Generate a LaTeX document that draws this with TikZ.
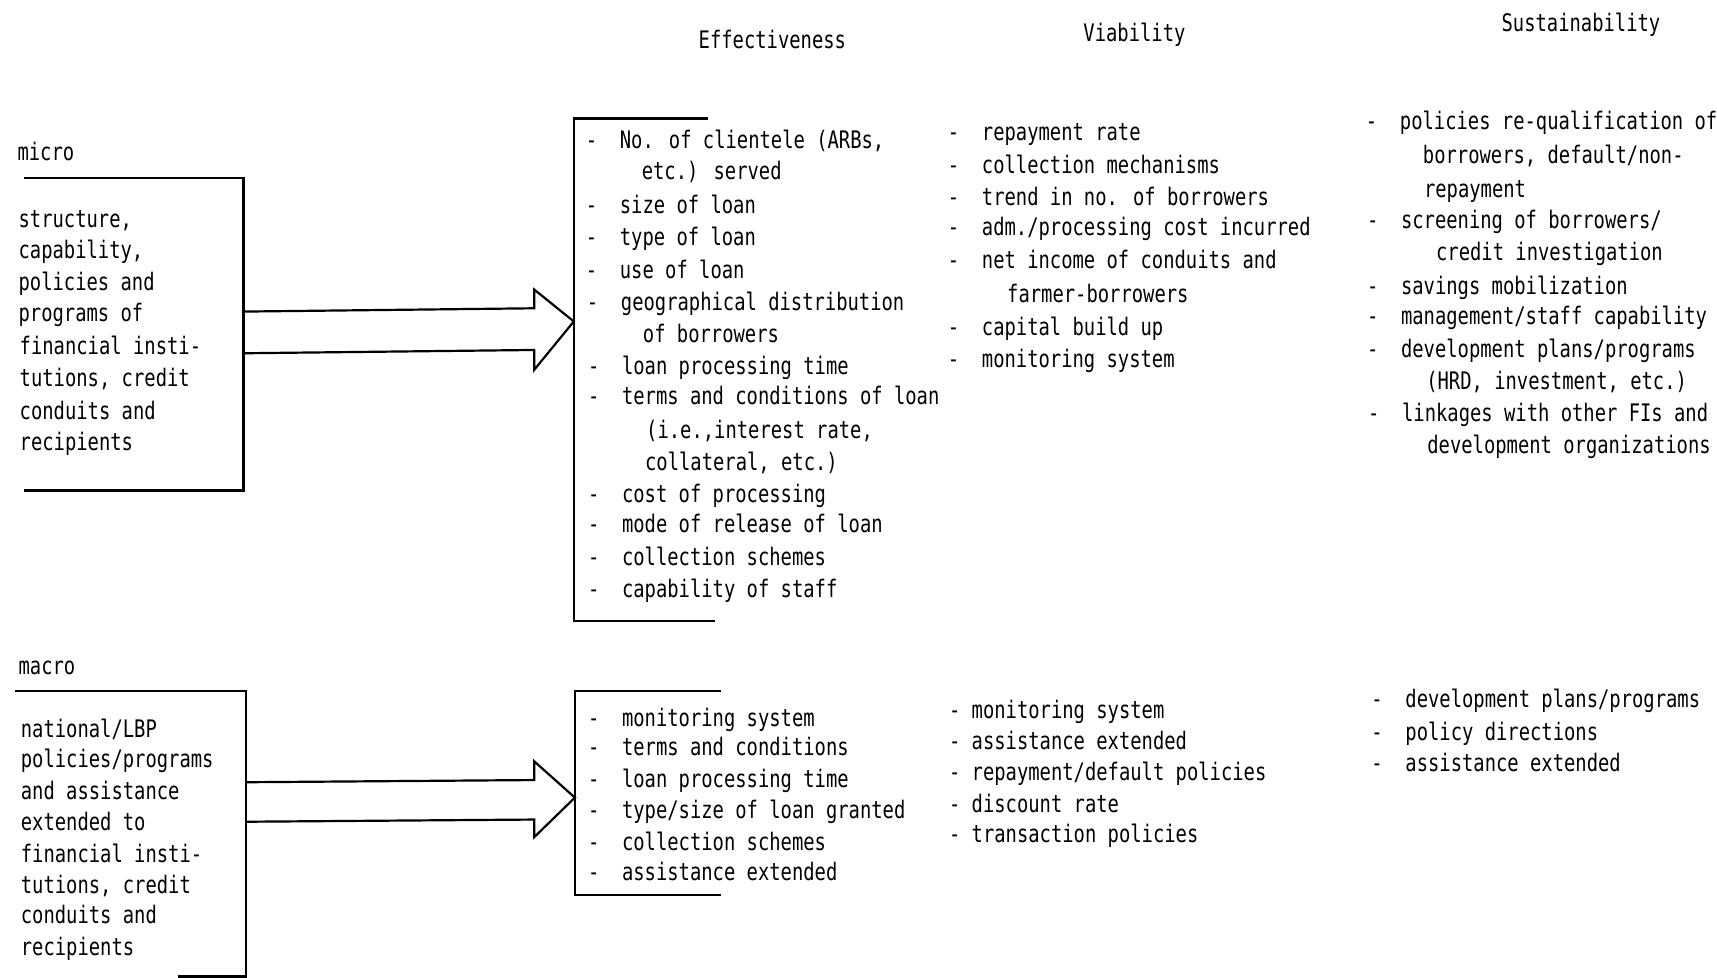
\documentclass[tikz,border=0pt]{standalone}
\usepackage{fontspec}
\newfontfamily\mono[FakeStretch=0.78]{DejaVu Sans Mono}
\usetikzlibrary{calc}
\newlength\cw
\newcommand\D{-\hspace*{2\cw}}
\newcommand\Dn{-\hspace*{1\cw}}
\newcommand\Lx[4]{\node[txt] (#1) at (#2,#3+8) {#4};}
\tikzset{
  txt/.style={anchor=base west,inner sep=0pt,outer sep=0pt,font=\mono\fontsize{11pt}{13pt}\selectfont},
  head/.style={anchor=base,inner sep=0pt,font=\mono\fontsize{11pt}{13pt}\selectfont},
  bx/.style={line width=1pt,line join=miter},
}
\begin{document}
\settowidth{\cw}{\mono\fontsize{11pt}{13pt}\selectfont 0}
\begin{tikzpicture}[x=0.5pt,y=-0.5pt]
\fill[white] (0,0) rectangle (1565,891.4);
\useasboundingbox (0,0) rectangle (1565,891.4);

% headers
\node[head] (hE) at (704,44) {Effectiveness};
\node[head] (hV) at (1034,38) {Viability};
\node[head] (hS) at (1441,29) {Sustainability};

% labels
\Lx{lmicro}{16}{138}{micro}
\Lx{lmacro}{17}{607}{macro}

% micro box
\draw[bx] (22,162) -- (222,162) -- (222,447) -- (22,447);
\Lx{m1}{17}{199}{structure,}
\Lx{m2}{17}{228}{capability,}
\Lx{m3}{17}{257}{policies and}
\Lx{m4}{17}{285}{programs of}
\Lx{m5}{18}{315}{financial insti-}
\Lx{m6}{18}{344}{tutions, credit}
\Lx{m7}{18}{374}{conduits and}
\Lx{m8}{18}{403}{recipients}

% micro effectiveness box
\draw[bx] (645,108) -- (523,108) -- (523,566) -- (652,566);
\coordinate (microR) at (222,303);
\coordinate (effL) at (523,293);
\draw[bx] ($(microR)+(0,-19)$) -- (487,281) -- (487,264) -- (effL) -- (487,337) -- (487,319) -- ($(microR)+(0,19)$);

\Lx{e1}{534}{127}{\D No. of clientele (ARBs,}
\Lx{e2}{585}{156}{etc.) served}
\Lx{e3}{534}{187}{\D size of loan}
\Lx{e4}{534}{216}{\D type of loan}
\Lx{e5}{534}{246}{\D use of loan}
\Lx{e6}{535}{275}{\D geographical distribution}
\Lx{e7}{586}{304}{of borrowers}
\Lx{e8}{536}{333}{\D loan processing time}
\Lx{e9}{536}{361}{\D terms and conditions of loan}
\Lx{e10}{589}{392}{(i.e.,interest rate,}
\Lx{e11}{588}{421}{collateral, etc.)}
\Lx{e12}{536}{450}{\D cost of processing}
\Lx{e13}{536}{477}{\D mode of release of loan}
\Lx{e14}{536}{507}{\D collection schemes}
\Lx{e15}{536}{537}{\D capability of staff}

% micro viability
\Lx{v1}{864}{120}{\D repayment rate}
\Lx{v2}{864}{150}{\D collection mechanisms}
\Lx{v3}{864}{179}{\D trend in no. of borrowers}
\Lx{v4}{864}{207}{\D adm./processing cost incurred}
\Lx{v5}{864}{237}{\D net income of conduits and}
\Lx{v6}{918}{268}{farmer-borrowers}
\Lx{v7}{864}{298}{\D capital build up}
\Lx{v8}{864}{327}{\D monitoring system}

% micro sustainability
\Lx{s1}{1245}{110}{\D policies re-qualification of}
\Lx{s2}{1297}{141}{borrowers, default/non-}
\Lx{s3}{1298}{172}{repayment}
\Lx{s4}{1246}{200}{\D screening of borrowers/}
\Lx{s5}{1309}{229}{credit investigation}
\Lx{s6}{1246}{260}{\D savings mobilization}
\Lx{s7}{1246}{288}{\D management/staff capability}
\Lx{s8}{1246}{318}{\D development plans/programs}
\Lx{s9}{1300}{347}{(HRD, investment, etc.)}
\Lx{s10}{1247}{376}{\D linkages with other FIs and}
\Lx{s11}{1301}{405}{development organizations}

% macro box
\draw[bx] (14,630) -- (224,630) -- (224,892);
\draw[bx] (162,890) -- (224,890);
\Lx{n1}{19}{664}{national/LBP}
\Lx{n2}{19}{692}{policies/programs}
\Lx{n3}{19}{721}{and assistance}
\Lx{n4}{19}{749}{extended to}
\Lx{n5}{19}{778}{financial insti-}
\Lx{n6}{19}{806}{tutions, credit}
\Lx{n7}{19}{834}{conduits and}
\Lx{n8}{19}{863}{recipients}

% macro effectiveness box
\draw[bx] (657,630) -- (524,630) -- (524,816) -- (657,816);
\coordinate (macroR) at (224,731);
\coordinate (effL2) at (524,727);
\draw[bx] ($(macroR)+(0,-18)$) -- (487,711) -- (487,694) -- (effL2) -- (487,763) -- (487,747) -- ($(macroR)+(0,18)$);

\Lx{f1}{536}{654}{\D monitoring system}
\Lx{f2}{536}{681}{\D terms and conditions}
\Lx{f3}{536}{710}{\D loan processing time}
\Lx{f4}{536}{738}{\D type/size of loan granted}
\Lx{f5}{536}{767}{\D collection schemes}
\Lx{f6}{536}{795}{\D assistance extended}

% macro viability
\Lx{w1}{865}{647}{\Dn monitoring system}
\Lx{w2}{865}{675}{\Dn assistance extended}
\Lx{w3}{865}{703}{\Dn repayment/default policies}
\Lx{w4}{865}{733}{\Dn discount rate}
\Lx{w5}{865}{760}{\Dn transaction policies}

% macro sustainability
\Lx{t1}{1250}{637}{\D development plans/programs}
\Lx{t2}{1250}{667}{\D policy directions}
\Lx{t3}{1250}{695}{\D assistance extended}
\end{tikzpicture}
\end{document}
